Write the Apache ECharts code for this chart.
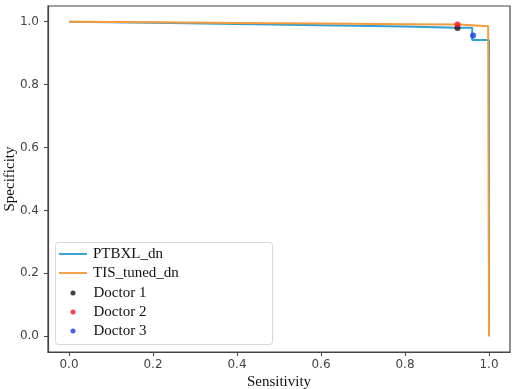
<!DOCTYPE html>
<html>
<head>
<meta charset="utf-8">
<script src="https://cdn.jsdelivr.net/npm/echarts@6/dist/echarts.min.js"></script>
<style>html,body{margin:0;padding:0;background:#fff}#c{width:517px;height:389px}</style>
</head>
<body>
<div id="c"></div>
<script>
// Data
const ptbxlX = [0.0, 0.2, 0.4, 0.6, 0.8, 0.92, 0.96, 0.96, 0.995, 1.0, 1.0];
const ptbxlY = [1.0, 0.997, 0.993, 0.989, 0.985, 0.981, 0.981, 0.942, 0.942, 0.942, 0.0];
const tisX = [0.0, 0.2, 0.4, 0.6, 0.8, 0.93, 0.998, 1.0];
const tisY = [1.0, 0.998, 0.996, 0.994, 0.992, 0.991, 0.986, 0.0];
const doctorNames = ['Doctor 1', 'Doctor 2', 'Doctor 3'];
const doctorSens = [0.925, 0.925, 0.962];
const doctorSpec = [0.980, 0.991, 0.956];
const doctorColors = ['#111111', '#f0142a', '#1238f0'];
const tickValues = [0.0, 0.2, 0.4, 0.6, 0.8, 1.0];

const zip = (xs, ys) => xs.map((x, i) => [x, ys[i]]);
const chart = echarts.init(document.getElementById('c'));

const labelStyle = {color: '#444', fontFamily: 'DejaVu Sans', fontSize: 12,
  formatter: v => v.toFixed(1)};
const series = [
  {name: 'PTBXL_dn', type: 'line', data: zip(ptbxlX, ptbxlY), symbol: 'none',
   lineStyle: {color: '#2f9fd3', width: 2}, itemStyle: {color: '#2f9fd3'}, z: 2},
  {name: 'TIS_tuned_dn', type: 'line', data: zip(tisX, tisY), symbol: 'none',
   lineStyle: {color: '#f79a3d', width: 2}, itemStyle: {color: '#f79a3d'}, z: 3}
];
doctorNames.forEach((n, i) => series.push({
  name: n, type: 'scatter', data: [[doctorSens[i], doctorSpec[i]]], symbolSize: 6,
  itemStyle: {color: doctorColors[i]}, z: 5
}));

const lineIcon = 'path://M0,0L30,0L30,2L0,2Z';
const legendText = {fontFamily: 'Liberation Serif', fontSize: 15, color: '#111', lineHeight: 15};

chart.setOption({
  animation: false,
  backgroundColor: '#fff',
  grid: {left: 48, right: 7, top: 6, bottom: 37, show: true, borderColor: '#444', borderWidth: 1.2,
    containLabel: false, outerBoundsMode: 'none'},
  xAxis: {type: 'value', min: -0.05, max: 1.05,
    name: 'Sensitivity', nameLocation: 'middle', nameGap: 22.5, nameMoveOverlap: false,
    nameTextStyle: {fontFamily: 'Liberation Serif', fontSize: 15, color: '#111'},
    axisLine: {show: true, onZero: false, lineStyle: {color: '#444', width: 1.2}},
    axisTick: {show: true, customValues: tickValues, length: 4, lineStyle: {color: '#444'}},
    axisLabel: Object.assign({customValues: tickValues, margin: 7}, labelStyle),
    splitLine: {show: false}},
  yAxis: {type: 'value', min: -0.05, max: 1.05,
    name: 'Specificity', nameLocation: 'middle', nameGap: 30, nameMoveOverlap: false,
    nameTextStyle: {fontFamily: 'Liberation Serif', fontSize: 15, color: '#111'},
    axisLine: {show: true, onZero: false, lineStyle: {color: '#444', width: 1.2}},
    axisTick: {show: true, customValues: tickValues, length: 4, lineStyle: {color: '#444'}},
    axisLabel: Object.assign({customValues: tickValues, margin: 9}, labelStyle),
    splitLine: {show: false}},
  legend: [
    {data: [{name: 'PTBXL_dn', icon: lineIcon}, {name: 'TIS_tuned_dn', icon: lineIcon}],
     orient: 'vertical', left: 59, top: 246.5, padding: 0, symbolKeepAspect: true,
     itemWidth: 28, itemHeight: 14, itemGap: 4,
     textStyle: Object.assign({padding: [0,0,0,1]}, legendText)},
    {data: doctorNames.map(n => ({name: n, icon: 'circle'})), orient: 'vertical', left: 70.5, top: 285.5,
     padding: 0, itemWidth: 5, itemHeight: 14, itemGap: 4, symbolKeepAspect: true,
     textStyle: Object.assign({padding: [0,0,0,13]}, legendText)}
  ],
  graphic: [{type: 'rect', left: 55, top: 242, shape: {width: 217, height: 102, r: 3},
    style: {fill: 'rgba(255,255,255,0.8)', stroke: '#d8d8d8', lineWidth: 1}, z: 4}],
  series: series
});
</script>
</body>
</html>
